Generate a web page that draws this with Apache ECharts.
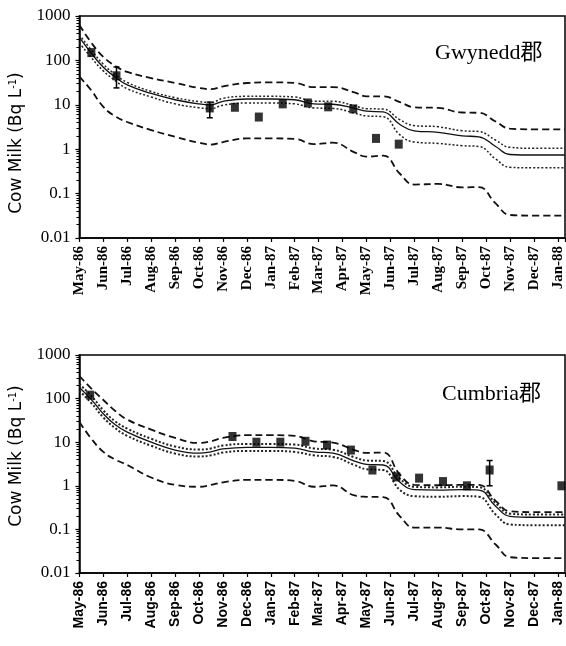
<!DOCTYPE html>
<html>
<head>
<meta charset="utf-8">
<script src="https://cdn.jsdelivr.net/npm/echarts@6/dist/echarts.min.js"></script>
<style>
  html, body { margin: 0; padding: 0; background: #fff; }
  #chart { width: 566px; height: 646px; }
</style>
</head>
<body>
<div id="chart"></div>
<script>
// months along the x axis (index 0 = May-86)
const months = ['May-86', 'Jun-86', 'Jul-86', 'Aug-86', 'Sep-86', 'Oct-86', 'Nov-86',
  'Dec-86', 'Jan-87', 'Feb-87', 'Mar-87', 'Apr-87', 'May-87', 'Jun-87', 'Jul-87',
  'Aug-87', 'Sep-87', 'Oct-87', 'Nov-87', 'Dec-87', 'Jan-88']
const yTicks = [0.01, 0.1, 1, 10, 100, 1000]
const yTickLabels = ['0.01', '0.1', '1', '10', '100', '1000']

// model time points (months since May-86)
const tGrid = [0, 0.5, 1, 1.5, 2, 3, 4, 5, 5.5, 6, 7, 8, 9, 9.8, 10.6, 11.5, 12, 12.7,
  13.4, 14, 15, 16, 16.7, 17.4, 18, 19, 20.3]

// Gwynedd
const gwUp95 = [630, 250, 120, 75, 55, 40, 31, 24, 22.5, 26, 31, 32, 31, 25, 25, 19, 15.5, 15.5,
  11.5, 8.8, 8.5, 6.7, 6.6, 4.2, 2.9, 2.8, 2.8]
const gwUp75 = [380, 170, 82, 48, 32, 20, 14.5, 11.8, 11.3, 14, 15.5, 15.5, 15, 12, 12, 9.5, 8.2, 8,
  4.6, 3.4, 3.2, 2.6, 2.5, 1.6, 1.1, 1.05, 1.05]
const gwMed = [330, 145, 70, 42, 28, 18, 13, 10.5, 10, 12, 13.5, 13.5, 13, 10.5, 10.3, 8.3, 7.2, 6.9,
  3.6, 2.6, 2.4, 2.0, 1.9, 1.15, 0.76, 0.74, 0.74]
const gwLo25 = [250, 115, 58, 35, 23, 15, 10.5, 8.6, 8.2, 9.8, 11, 11, 10.5, 8.5, 8.3, 6.5, 5.6, 5.4,
  2.1, 1.45, 1.35, 1.2, 1.15, 0.6, 0.39, 0.38, 0.38]
const gwLo5 = [43, 21, 9, 5.5, 4.1, 2.7, 1.9, 1.4, 1.27, 1.45, 1.75, 1.75, 1.7, 1.3, 1.4, 0.85, 0.68, 0.72,
  0.28, 0.16, 0.165, 0.138, 0.14, 0.06, 0.033, 0.032, 0.032]
const gwObsT = [0.5, 1.55, 5.45, 6.5, 7.5, 8.5, 9.55, 10.4, 11.45, 12.4, 13.35]
const gwObs = [150, 45, 8.5, 8.8, 5.3, 10.5, 11, 9, 8.1, 1.75, 1.3]
const gwErrT = [1.55, 5.45]
const gwErrLo = [24, 5.1]
const gwErrHi = [71, 11.5]

// Cumbria
const cuUp95 = [330, 170, 93, 52, 33, 19.5, 12.5, 9.6, 10.5, 12.5, 14.5, 14.5, 14, 10.5, 9.8, 6.6, 5.7, 5.8,
  1.8, 1.05, 1.03, 1.05, 1.05, 0.45, 0.26, 0.25, 0.25]
const cuUp75 = [215, 115, 54, 30, 20.5, 12, 8, 6.8, 7.2, 8.4, 9.1, 9.1, 8.8, 7.2, 6.7, 4.5, 3.8, 3.7,
  1.45, 0.95, 0.92, 0.95, 0.93, 0.4, 0.23, 0.22, 0.22]
const cuMed = [180, 95, 45, 25, 17, 10, 6.6, 5.6, 6.0, 7.0, 7.6, 7.6, 7.3, 6.0, 5.6, 3.7, 3.1, 3.0,
  1.2, 0.82, 0.8, 0.82, 0.8, 0.34, 0.2, 0.19, 0.19]
const cuLo25 = [150, 79, 37, 21, 14, 8.3, 5.5, 4.7, 5, 5.8, 6.3, 6.3, 6.0, 5.0, 4.6, 3.0, 2.4, 2.3,
  0.8, 0.58, 0.56, 0.58, 0.56, 0.22, 0.13, 0.125, 0.125]
const cuLo5 = [29, 12, 6, 4, 3.0, 1.55, 1.05, 0.95, 1.05, 1.2, 1.37, 1.37, 1.3, 0.95, 1.02, 0.6, 0.56, 0.55,
  0.2, 0.11, 0.11, 0.1, 0.1, 0.045, 0.023, 0.022, 0.022]
const cuObsT = [0.45, 6.4, 7.4, 8.4, 9.45, 10.35, 11.35, 12.25, 13.25, 14.2, 15.2, 16.2, 17.15, 20.15]
const cuObs = [120, 13.5, 10, 10, 10.5, 8.6, 6.6, 2.3, 1.6, 1.5, 1.25, 1.0, 2.3, 1.0]
const cuErrT = [17.15]
const cuErrLo = [1.0]
const cuErrHi = [3.8]

const pairs = (xs, ys) => xs.map((x, i) => [x, ys[i]])

function lineSeries(idx, values, kind, w) {
  let style = { color: '#111', width: 1.3, type: 'solid' }
  if (kind === 'dash') style = { color: '#111', width: 1.8, type: [7, 4] }
  if (kind === 'dot') style = { color: '#222', width: w || 1.5, type: [2, 2] }
  return {
    type: 'line',
    xAxisIndex: idx,
    yAxisIndex: idx,
    data: pairs(tGrid, values),
    showSymbol: false,
    smooth: 0.45,
    lineStyle: style,
    z: 2,
  }
}

function errSeries(idx, ts, lo, hi) {
  return {
    type: 'custom',
    xAxisIndex: idx,
    yAxisIndex: idx,
    data: ts.map((t, i) => [t, lo[i], hi[i]]),
    encode: { x: 0, y: [1, 2] },
    renderItem: function (params, api) {
      const a = api.coord([api.value(0), api.value(1)])
      const b = api.coord([api.value(0), api.value(2)])
      const s = { stroke: '#000', lineWidth: 1.5 }
      return {
        type: 'group',
        children: [
          { type: 'line', shape: { x1: a[0], y1: a[1], x2: b[0], y2: b[1] }, style: s },
          { type: 'line', shape: { x1: a[0] - 3, y1: a[1], x2: a[0] + 3, y2: a[1] }, style: s },
          { type: 'line', shape: { x1: b[0] - 3, y1: b[1], x2: b[0] + 3, y2: b[1] }, style: s },
        ],
      }
    },
    z: 3,
  }
}

function obsSeries(idx, ts, vs) {
  return {
    type: 'scatter',
    xAxisIndex: idx,
    yAxisIndex: idx,
    data: pairs(ts, vs),
    symbol: 'rect',
    symbolSize: [8, 9],
    itemStyle: { color: '#000' },
    z: 4,
  }
}

function xAxisCfg(idx, font, size) {
  return {
    type: 'value',
    gridIndex: idx,
    min: 0,
    max: 20.3,
    interval: 1,
    axisLine: { lineStyle: { color: '#000', width: 1.5 } },
    axisTick: { length: 4, lineStyle: { color: '#000', width: 1.2 } },
    splitLine: { show: false },
    axisLabel: {
      rotate: 90,
      margin: 8,
      color: '#000',
      fontFamily: font,
      fontWeight: 'bold',
      fontSize: size,
      formatter: (v) => (Number.isInteger(v) ? months[v] : ''),
    },
  }
}

function yAxisCfg(idx, pad) {
  return {
    type: 'log',
    gridIndex: idx,
    logBase: 10,
    min: 0.01,
    max: 1000,
    axisLine: { show: true, lineStyle: { color: '#000', width: 1.5 } },
    axisTick: { show: true, inside: false, length: 4, lineStyle: { color: '#000', width: 1.2 } },
    minorTick: { show: true, splitNumber: 9, length: 3, lineStyle: { color: '#000', width: 1 } },
    splitLine: { show: false },
    minorSplitLine: { show: false },
    axisLabel: {
      margin: 9,
      color: '#000',
      fontFamily: 'Liberation Serif',
      fontSize: 17,
      formatter: (v) => {
        let k = 0
        yTicks.forEach((t, i) => {
          if (Math.abs(Math.log10(t) - Math.log10(v)) < Math.abs(Math.log10(yTicks[k]) - Math.log10(v))) k = i
        })
        return yTickLabels[k]
      },
    },
    name: 'Cow Milk (Bq L{sup|-1})',
    nameLocation: 'middle',
    nameGap: 42,
    nameTextStyle: {
      color: '#000',
      fontFamily: 'DejaVu Sans',
      fontSize: 17,
      padding: pad,
      rich: {
        sup: { fontFamily: 'DejaVu Sans', fontSize: 10, color: '#000', padding: [0, 0, 8, 0] },
      },
    },
  }
}

const chart = echarts.init(document.getElementById('chart'), null, { renderer: 'canvas' })
chart.setOption({
  backgroundColor: '#fff',
  animation: false,
  title: [
    { text: 'Gwynedd郡', left: 430, top: 37,
      textStyle: { fontFamily: 'Liberation Serif, Noto Sans CJK SC', fontSize: 22, fontWeight: 'normal', color: '#000' } },
    { text: 'Cumbria郡', left: 437, top: 378,
      textStyle: { fontFamily: 'Liberation Serif, Noto Sans CJK SC', fontSize: 22, fontWeight: 'normal', color: '#000' } },
  ],
  grid: [
    { left: 69, top: 16, width: 496, height: 222, show: true, borderColor: '#000', borderWidth: 1.5 },
    { left: 68, top: 355, width: 497, height: 218, show: true, borderColor: '#000', borderWidth: 1.5 },
  ],
  xAxis: [xAxisCfg(0, 'Liberation Serif', 15), xAxisCfg(1, 'Liberation Sans', 14)],
  yAxis: [yAxisCfg(0, [0, 32, 0, 0]), yAxisCfg(1, [0, 0, 0, 16])],
  series: [
    lineSeries(0, gwUp95, 'dash'),
    lineSeries(0, gwUp75, 'dot'),
    lineSeries(0, gwMed, 'solid'),
    lineSeries(0, gwLo25, 'dot'),
    lineSeries(0, gwLo5, 'dash'),
    errSeries(0, gwErrT, gwErrLo, gwErrHi),
    obsSeries(0, gwObsT, gwObs),
    lineSeries(1, cuUp95, 'dash'),
    lineSeries(1, cuUp75, 'dot', 2),
    lineSeries(1, cuMed, 'solid'),
    lineSeries(1, cuLo25, 'dot', 2),
    lineSeries(1, cuLo5, 'dash'),
    errSeries(1, cuErrT, cuErrLo, cuErrHi),
    obsSeries(1, cuObsT, cuObs),
  ],
})
</script>
</body>
</html>
